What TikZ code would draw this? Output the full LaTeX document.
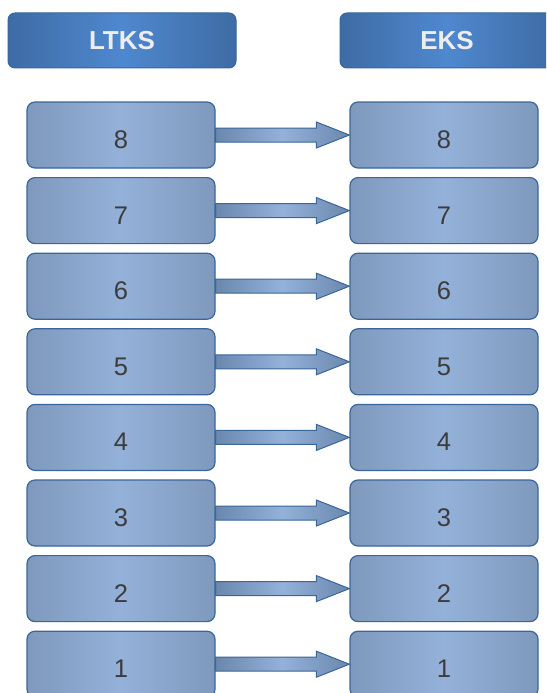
\documentclass[tikz,border=0pt]{standalone}
\usepackage{fontspec}
\setmainfont{Liberation Sans}
\usetikzlibrary{calc}
\definecolor{headfill}{HTML}{4F88CF}
\definecolor{headedge}{HTML}{3E6BA4}
\definecolor{boxfill}{HTML}{94B1D9}
\definecolor{boxedge}{HTML}{7E99BC}
\definecolor{arrowedge}{HTML}{6A87AE}
\definecolor{rimblue}{HTML}{3A6699}
\definecolor{digitgray}{HTML}{3C3C3C}
\tikzset{
  headbox/.style={draw=rimblue, line width=1pt, rounded corners=7pt,
    left color=headedge, right color=headedge, middle color=headfill,
    minimum width=228pt, minimum height=55pt, inner sep=0pt,
    text=white!93!black, font=\fontsize{26}{30}\selectfont\bfseries},
  levelbox/.style={draw=rimblue, line width=1.2pt, rounded corners=8pt,
    left color=boxedge, right color=boxedge, middle color=boxfill,
    minimum width=188pt, minimum height=66pt, inner sep=0pt,
    text=digitgray, text height=27pt, text depth=0pt,
    font=\fontsize{25.5}{30}\selectfont},
  levelarrow/.style={draw=rimblue, line width=1pt, line join=miter,
    left color=arrowedge, right color=arrowedge, middle color=boxfill}
}
\begin{document}
\begin{tikzpicture}
\clip (0pt,0pt) rectangle (546pt,-693pt);
\node[headbox] (ltkshead) at (122pt,-40.5pt) {LTKS};
\node[headbox, minimum width=214pt] (ekshead) at (447pt,-40.5pt) {EKS};
\foreach \n in {1,...,8} {
  \node[levelbox] (ltks\n) at (121pt,{-135pt-(8-\n)*75.6pt}) {\n};
  \node[levelbox] (eks\n) at (444pt,{-135pt-(8-\n)*75.6pt}) {\n};
  \draw[levelarrow] ($(ltks\n.east)+(0pt,7pt)$) -- ($(eks\n.west)+(-33pt,7pt)$)
    -- ($(eks\n.west)+(-33pt,13pt)$) -- (eks\n.west)
    -- ($(eks\n.west)+(-33pt,-13pt)$) -- ($(eks\n.west)+(-33pt,-7pt)$)
    -- ($(ltks\n.east)+(0pt,-7pt)$) -- cycle;
}
\end{tikzpicture}
\end{document}
